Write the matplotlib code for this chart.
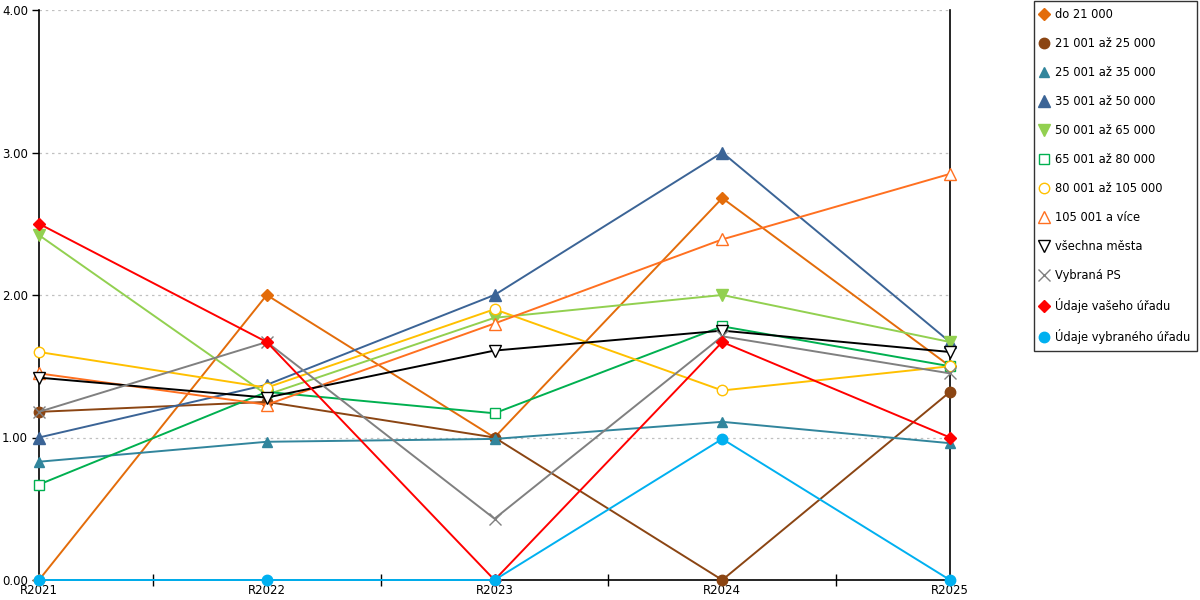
import matplotlib
matplotlib.use("Agg")
import matplotlib.pyplot as plt
from matplotlib.lines import Line2D

years = ["R2021", "R2022", "R2023", "R2024", "R2025"]

do_21000 = [0.00, 2.00, 1.00, 2.68, 1.50]
s_21_25 = [1.18, 1.25, 1.00, 0.00, 1.32]
s_25_35 = [0.83, 0.97, 0.99, 1.11, 0.96]
s_35_50 = [1.00, 1.37, 2.00, 3.00, 1.67]
s_50_65 = [2.42, 1.30, 1.84, 2.00, 1.67]
s_65_80 = [0.67, 1.32, 1.17, 1.78, 1.50]
s_80_105 = [1.60, 1.35, 1.90, 1.33, 1.50]
s_105_plus = [1.45, 1.23, 1.80, 2.39, 2.85]
vsechna_mesta = [1.42, 1.28, 1.61, 1.75, 1.60]
vybrana_ps = [1.18, 1.67, 0.43, 1.71, 1.45]
vas_urad = [2.50, 1.67, 0.00, 1.67, 1.00]
vybrany_urad = [0.00, 0.00, 0.00, 0.99, 0.00]

labels = ["do 21 000", "21 001 až 25 000", "25 001 až 35 000", "35 001 až 50 000",
          "50 001 až 65 000", "65 001 až 80 000", "80 001 až 105 000", "105 001 a více",
          "všechna města", "Vybraná PS", "Údaje vašeho úřadu", "Údaje vybraného úřadu"]
series = [do_21000, s_21_25, s_25_35, s_35_50, s_50_65, s_65_80, s_80_105,
          s_105_plus, vsechna_mesta, vybrana_ps, vas_urad, vybrany_urad]

# (colour, marker, filled, marker size)
styles = [
    ("#E36C0A", "D", True, 6),
    ("#8B4513", "o", True, 7.5),
    ("#31859C", "^", True, 7.5),
    ("#3B6496", "^", True, 8),
    ("#92D050", "v", True, 8),
    ("#00B050", "s", False, 7.5),
    ("#FFC000", "o", False, 7.5),
    ("#FF7020", "^", False, 8),
    ("#000000", "v", False, 8),
    ("#808080", "x", False, 8),
    ("#FF0000", "D", True, 6),
    ("#00B0F0", "o", True, 7.5),
]

fig = plt.figure(figsize=(12, 6), dpi=100)
ax = fig.add_axes([39 / 1200, 20 / 600, 911 / 1200, 570 / 600])

x = list(range(len(years)))
handles = []
for vals, lab, (col, mk, filled, ms) in zip(series, labels, styles):
    face = col if filled else "white"
    if mk == "x":
        face = col
    ax.plot(x, vals, color=col, lw=1.4, marker=mk, ms=ms, mfc=face, mec=col,
            mew=1.0, clip_on=False, zorder=3)
    handles.append(Line2D([], [], ls="none", marker=mk, ms=ms, mfc=face, mec=col,
                          mew=1.0, color=col, label=lab))

ax.set_xlim(0, len(years) - 1)
ax.set_ylim(0, 4)
ax.set_yticks([0, 1, 2, 3, 4])
ax.set_yticklabels(["0.00", "1.00", "2.00", "3.00", "4.00"], fontsize=8.5)
ax.set_xticks(x)
ax.set_xticklabels(years, fontsize=8.5)
ax.set_xticks([i + 0.5 for i in range(len(years) - 1)], minor=True)
ax.tick_params(axis="x", which="major", length=0, pad=3)
ax.tick_params(axis="x", which="minor", direction="inout", length=9, width=1)
ax.tick_params(axis="y", length=5, width=1, pad=3)

ax.grid(axis="y", color="#C0C0C0", ls=(0, (2, 3)), lw=0.9)
ax.set_axisbelow(True)
ax.spines["top"].set_visible(False)
for s in ["left", "bottom", "right"]:
    ax.spines[s].set_color("black")
    ax.spines[s].set_linewidth(1.2)

leg = fig.legend(handles=handles, loc="upper left", bbox_to_anchor=(1034 / 1200, 0.998),
                 borderaxespad=0, fontsize=8.3, frameon=True, fancybox=False,
                 labelspacing=1.39, handlelength=0.6, handletextpad=0.6,
                 borderpad=0.6)
leg.get_frame().set_edgecolor("black")
leg.get_frame().set_linewidth(1.0)

fig.savefig("out.png", dpi=100)
